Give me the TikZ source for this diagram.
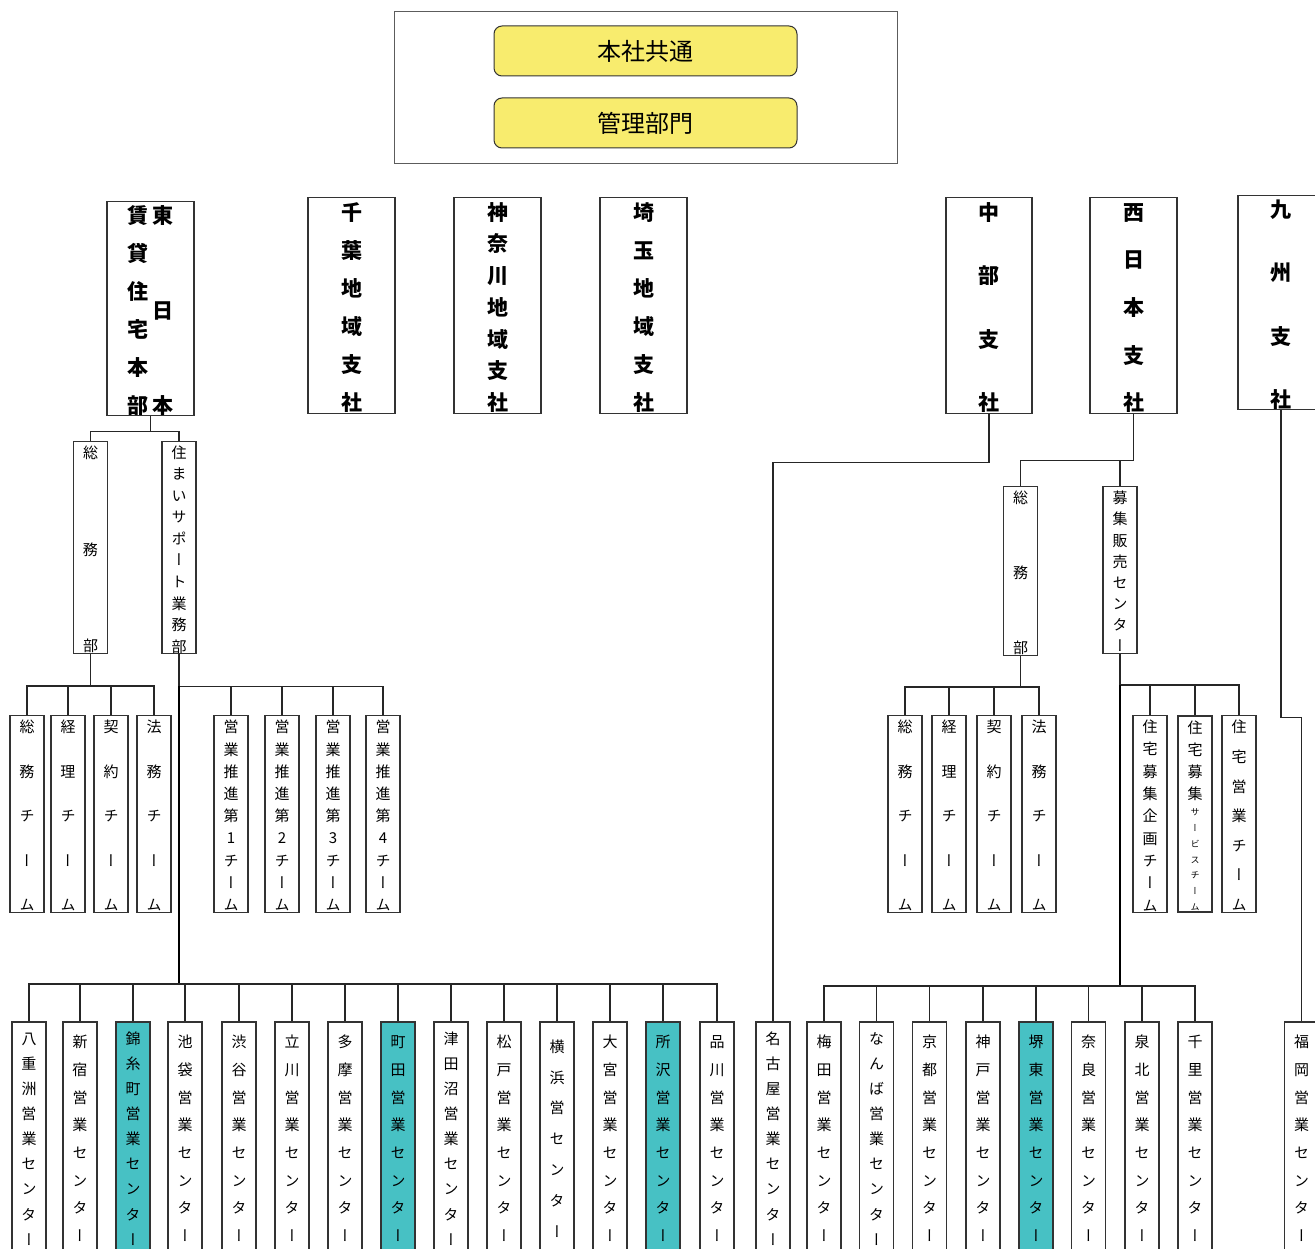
\documentclass[tikz,border=0pt]{standalone}
\usepackage{fontspec}
\setmainfont{Noto Sans CJK JP}[RawFeature=+vert]
\definecolor{yel}{HTML}{F8EC6E}
\definecolor{tealbox}{HTML}{47C1C4}
\definecolor{edge}{HTML}{333333}
\def\cs{\vrule height .88em depth .12em width 0pt}
\def\vcolA#1#2\relax{\hbox to\hsize{\hss#1\cs\hss}\if\relax\detokenize{#2}\relax\else\vfill\vcolA#2\relax\fi}
\newcommand\vcol[3]{\parbox[c][\dimexpr#1+4pt\relax][s]{#2}{\offinterlineskip\kern4pt\vcolA#3\relax}}
\newcommand\sm{\fontsize{9}{9}\selectfont}
\newcommand\vb[7][]{\node[vbox,minimum width=#4pt,minimum height=#5pt,#1] (#2) at (#3) {\vcol{#6pt}{#4pt}{#7}};}
\tikzset{
  vbox/.style={draw=edge,line width=1.1pt,fill=white,inner sep=0pt,font=\fontsize{15}{15}\selectfont},
  br/.style={font=\fontsize{21}{21}\selectfont\bfseries},
  hl/.style={fill=tealbox},
  ybox/.style={draw=edge,line width=1pt,fill=yel,rounded corners=8pt,minimum width=303pt,minimum height=50pt,inner sep=0pt,font=\fontsize{24}{24}\selectfont},
  conn/.style={draw=black!85,line width=1.2pt},
  trunk/.style={draw=black,line width=2pt}
}
\begin{document}
\begin{tikzpicture}[x=1pt,y=-1pt]
\useasboundingbox (0,0) rectangle (1315,1249);
% top block
\node[draw=edge!80,line width=1pt,minimum width=503pt,minimum height=152pt,inner sep=0pt] (top) at (645.5,88) {};
\node[ybox] (y1) at (645.5,51) {本社共通};
\node[ybox] (y2) at (645.5,123) {管理部門};
% branches
\node[vbox,br,minimum width=87pt,minimum height=213pt] (east) at (150.5,308.5) {\vcol{208pt}{25pt}{賃貸住宅本部}\vcol{208pt}{25pt}{東日本}};
\vb[br]{chiba}{351.5,305.5}{87}{213}{209}{千葉地域支社}
\vb[br]{kanagawa}{497.5,305.5}{87}{213}{209}{神奈川地域支社}
\vb[br]{saitama}{643.5,305.5}{87}{213}{209}{埼玉地域支社}
\vb[br]{chubu}{989,305.5}{86}{213}{209}{中部支社}
\vb[br]{nishi}{1133.5,305.5}{87}{213}{209}{西日本支社}
\vb[br]{kyushu}{1281,302.5}{86}{213}{208}{九州支社}
% level 2
\vb{somuL}{90.5,547.5}{34}{210}{206}{総務部}
\vb{sumai}{179,547.5}{34}{210}{207}{住まいサポート業務部}
\vb{somuR}{1020.5,571}{34}{168}{163}{総務部}
\vb{boshu}{1120,570}{34}{166}{161}{募集販売センター}
% teams
\vb{tL1}{27,814}{34}{196}{191}{総務チーム}
\vb{tL2}{68,814}{34}{196}{191}{経理チーム}
\vb{tL3}{111,814}{34}{196}{191}{契約チーム}
\vb{tL4}{154,814}{34}{196}{191}{法務チーム}
\vb{tE1}{231,814}{34}{196}{191}{営業推進第1チーム}
\vb{tE2}{282,814}{34}{196}{191}{営業推進第2チーム}
\vb{tE3}{333,814}{34}{196}{191}{営業推進第3チーム}
\vb{tE4}{383,814}{34}{196}{191}{営業推進第4チーム}
\vb{tR1}{905,814}{34}{196}{191}{総務チーム}
\vb{tR2}{949,814}{34}{196}{191}{経理チーム}
\vb{tR3}{994,814}{34}{196}{191}{契約チーム}
\vb{tR4}{1039,814}{34}{196}{191}{法務チーム}
\vb{tB1}{1150,814}{34}{196}{192}{住宅募集企画チーム}
\node[vbox,minimum width=34pt,minimum height=196pt] (tB2) at (1195,814) {\parbox[c][194pt][s]{34pt}{\offinterlineskip\kern4pt\vcolA 住宅募集\relax\vfill{\sm\vcolA サービスチーム\relax}}};
\vb{tB3}{1239,814}{34}{196}{191}{住宅営業チーム}
% bottom centres
\vb{b1}{29,1137}{34}{230}{214}{八重洲営業センター}
\vb{b2}{80,1137}{34}{230}{207}{新宿営業センター}
\vb[hl]{b3}{133,1137}{34}{230}{214}{錦糸町営業センター}
\vb{b4}{185,1137}{34}{230}{207}{池袋営業センター}
\vb{b5}{239,1137}{34}{230}{207}{渋谷営業センター}
\vb{b6}{292,1137}{34}{230}{207}{立川営業センター}
\vb{b7}{345,1137}{34}{230}{207}{多摩営業センター}
\vb[hl]{b8}{398,1137}{34}{230}{207}{町田営業センター}
\vb{b9}{451,1137}{34}{230}{214}{津田沼営業センター}
\vb{b10}{504,1137}{34}{230}{207}{松戸営業センター}
\vb{b11}{557,1137}{34}{230}{198}{横浜営センター}
\vb{b12}{610,1137}{34}{230}{207}{大宮営業センター}
\vb[hl]{b13}{663,1137}{34}{230}{207}{所沢営業センター}
\vb{b14}{717,1137}{34}{230}{207}{品川営業センター}
\vb{n0}{773,1137}{34}{230}{214}{名古屋営業センター}
\vb{r1}{824,1137}{34}{230}{207}{梅田営業センター}
\vb{r2}{876.5,1137}{34}{230}{214}{なんば営業センター}
\vb{r3}{929.5,1137}{34}{230}{207}{京都営業センター}
\vb{r4}{983,1137}{34}{230}{207}{神戸営業センター}
\vb[hl]{r5}{1036,1137}{34}{230}{207}{堺東営業センター}
\vb{r6}{1088.5,1137}{34}{230}{207}{奈良営業センター}
\vb{r7}{1142,1137}{34}{230}{207}{泉北営業センター}
\vb{r8}{1195,1137}{34}{230}{207}{千里営業センター}
\vb{fuk}{1301.5,1137}{34}{230}{207}{福岡営業センター}
% connectors
\draw[conn] (east.south) -- ++(0,15) coordinate (j1);
\foreach \c in {somuL,sumai} \draw[conn] (j1) -| (\c.north);
\draw[conn] (somuL.south) -- ++(0,32) coordinate (j2);
\foreach \c in {tL1,tL2,tL3,tL4} \draw[conn] (j2) -| (\c.north);
\draw[conn] (sumai.south) -- ++(0,32) coordinate (j3);
\foreach \c in {tE1,tE2,tE3,tE4} \draw[conn] (j3) -| (\c.north);
\coordinate (jL) at (179,984);
\draw[trunk] (j3) -- (jL);
\foreach \c in {b1,b2,b3,b4,b5,b6,b7,b8,b9,b10,b11,b12,b13,b14} \draw[conn] (jL) -| (\c.north);
\draw[conn] (chubu.south) -- ++(0,49) -| (n0.north);
\draw[conn] (nishi.south) -- ++(0,47) coordinate (j4);
\foreach \c in {somuR,boshu} \draw[conn] (j4) -| (\c.north);
\draw[conn] (somuR.south) -- ++(0,31) coordinate (j5);
\foreach \c in {tR1,tR2,tR3,tR4} \draw[conn] (j5) -| (\c.north);
\draw[conn] (boshu.south) -- ++(0,31) coordinate (j6);
\foreach \c in {tB1,tB2,tB3} \draw[conn] (j6) -| (\c.north);
\coordinate (jR) at (1120,986);
\draw[trunk] (j6) -- (jR);
\foreach \c in {r1,r2,r3,r4,r5,r6,r7,r8} \draw[conn] (jR) -| (\c.north);
\draw[conn] (kyushu.south) -- ++(0,307) -| (fuk.north);
\end{tikzpicture}
\end{document}
